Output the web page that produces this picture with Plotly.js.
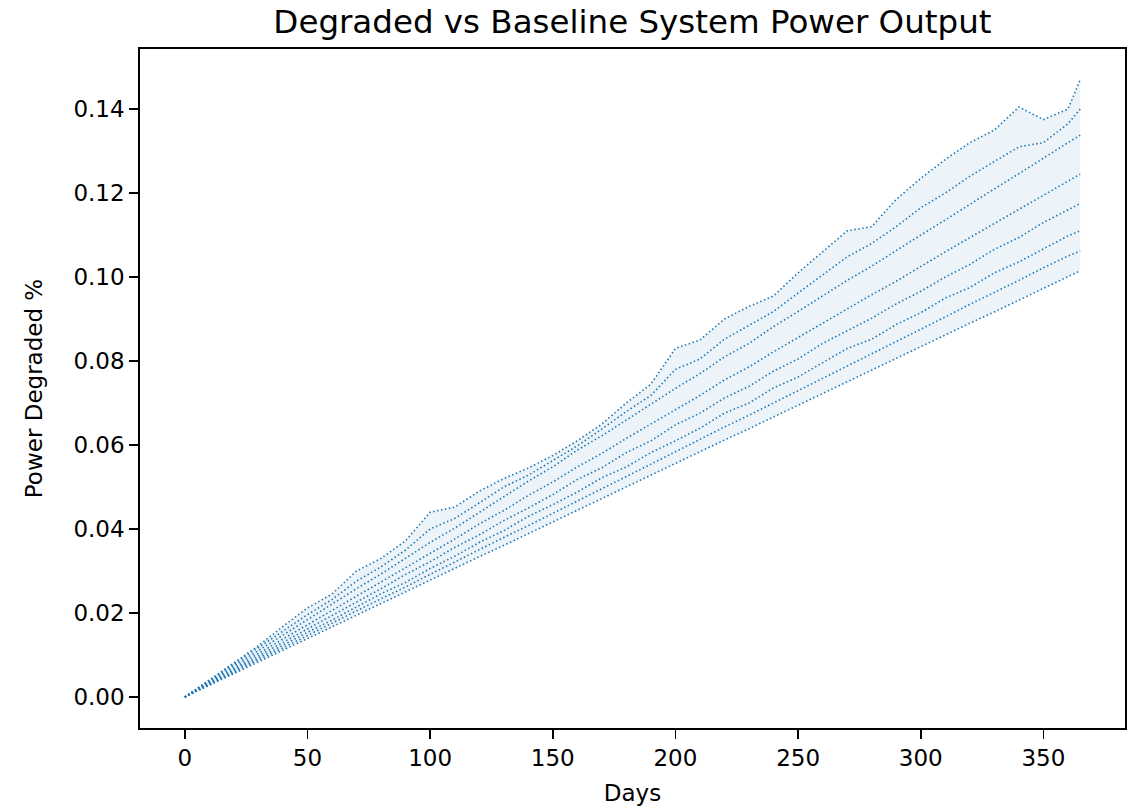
<!DOCTYPE html>
<html>
<head>
<meta charset="utf-8">
<script src="https://cdn.plot.ly/plotly-3.0.1.min.js"></script>
<style>html,body{margin:0;padding:0;background:#fff;}#chart{width:1132px;height:810px;}</style>
</head>
<body>
<div id="chart"></div>
<script>
// Days sampled along each strand of the scatter
const days = [0,10,20,30,40,50,60,70,80,90,100,110,120,130,140,150,160,170,180,190,200,210,220,230,240,250,260,270,280,290,300,310,320,330,340,350,360,365];

// Lower envelope (baseline-like strand)
const strand1 = [0,.0028,.0056,.0083,.0111,.0139,.0167,.0195,.0222,.0250,.0278,.0306,.0334,.0361,.0389,.0417,.0445,.0473,.0500,.0528,.0556,.0584,.0612,.0639,.0667,.0695,.0723,.0751,.0778,.0806,.0834,.0862,.0890,.0917,.0945,.0973,.1001,.1015];
const strand2 = [0,.0030,.0059,.0088,.0117,.0147,.0176,.0205,.0234,.0262,.0292,.0322,.0350,.0380,.0408,.0438,.0467,.0496,.0525,.0555,.0584,.0613,.0643,.0671,.0700,.0730,.0760,.0788,.0817,.0846,.0876,.0905,.0935,.0963,.0992,.1022,.1050,.1062];
const strand3 = [0,.0031,.0062,.0092,.0123,.0154,.0183,.0215,.0246,.0273,.0306,.0335,.0368,.0396,.0430,.0458,.0488,.0522,.0548,.0582,.0610,.0640,.0676,.0700,.0736,.0762,.0797,.0830,.0852,.0887,.0915,.0950,.0975,.1010,.1036,.1068,.1098,.1110];
const strand4 = [0,.0033,.0066,.0097,.0130,.0162,.0195,.0226,.0258,.0292,.0322,.0356,.0386,.0420,.0450,.0482,.0518,.0546,.0582,.0610,.0648,.0676,.0712,.0740,.0776,.0805,.0842,.0872,.0902,.0936,.0966,.1000,.1030,.1066,.1094,.1130,.1160,.1175];
const strand5 = [0,.0035,.0069,.0103,.0138,.0172,.0206,.0240,.0274,.0307,.0343,.0376,.0412,.0444,.0480,.0512,.0548,.0580,.0616,.0650,.0684,.0718,.0755,.0786,.0822,.0856,.0890,.0925,.0958,.0990,.1026,.1060,.1094,.1128,.1162,.1196,.1230,.1245];
const strand6 = [0,.0037,.0074,.0110,.0147,.0184,.0220,.0258,.0293,.0330,.0368,.0402,.0440,.0476,.0514,.0548,.0588,.0622,.0660,.0696,.0735,.0770,.0810,.0842,.0882,.0918,.0955,.0992,.1026,.1064,.1100,.1136,.1174,.1210,.1246,.1284,.1320,.1338];
const strand7 = [0,.0039,.0078,.0116,.0156,.0196,.0232,.0276,.0310,.0350,.0400,.0425,.0462,.0500,.0528,.0562,.0598,.0638,.0680,.0718,.0780,.0805,.0852,.0885,.0918,.0962,.1005,.1048,.1080,.1120,.1165,.1200,.1240,.1275,.1310,.1320,.1365,.1400];
// Upper (noisy) envelope
const strandTop = [0,.0041,.0083,.0122,.0168,.0212,.0245,.0300,.0330,.0372,.0440,.0452,.0490,.0520,.0545,.0575,.0610,.0650,.0700,.0745,.0830,.0850,.0900,.0930,.0955,.1010,.1060,.1110,.1120,.1185,.1235,.1280,.1320,.1350,.1405,.1375,.1400,.1470];

const xTicks = [0,50,100,150,200,250,300,350];
const yTicks = [0,0.02,0.04,0.06,0.08,0.10,0.12,0.14];

const blue = '#1f77b4';
const dotLine = {color: blue, width: 1.6, dash: '1.5px,2.5px'};

const strands = [strand2, strand3, strand4, strand5, strand6, strand7];
const traces = [
  {x: days, y: strand1, type: 'scatter', mode: 'lines', line: dotLine, hoverinfo: 'skip'},
  {x: days, y: strandTop, type: 'scatter', mode: 'lines', fill: 'tonexty',
   fillcolor: 'rgba(31,119,180,0.08)', line: dotLine, hoverinfo: 'skip'}
].concat(strands.map(s => ({x: days, y: s, type: 'scatter', mode: 'lines', line: dotLine, hoverinfo: 'skip'})));

const font = {family: 'DejaVu Sans, sans-serif', size: 23, color: '#000'};

const layout = {
  width: 1132, height: 810,
  margin: {l: 140, r: 7, t: 49, b: 82, pad: 0},
  paper_bgcolor: '#fff', plot_bgcolor: '#fff',
  showlegend: false,
  font: font,
  title: {text: 'Degraded vs Baseline System Power Output', font: {family: 'DejaVu Sans, sans-serif', size: 32.5, color: '#000'},
          x: 0.5587, xanchor: 'center', y: 0.973, yanchor: 'middle'},
  xaxis: {
    range: [-18.25, 383.25], tickvals: xTicks, ticktext: xTicks.map(String),
    showgrid: false, zeroline: false, showline: true, mirror: true, linecolor: '#000', linewidth: 1.8,
    ticks: 'outside', ticklen: 9, tickwidth: 1.8, tickcolor: '#000',
    tickfont: font,
    title: {text: 'Days', font: font, standoff: 14}
  },
  yaxis: {
    range: [-0.00738, 0.1543], tickvals: yTicks, ticktext: yTicks.map(v => v.toFixed(2)),
    showgrid: false, zeroline: false, showline: true, mirror: true, linecolor: '#000', linewidth: 1.8,
    ticks: 'outside', ticklen: 9, tickwidth: 1.8, tickcolor: '#000',
    tickfont: font,
    title: {text: 'Power Degraded %', font: font, standoff: 24}
  }
};

Plotly.newPlot('chart', traces, layout, {staticPlot: true, displayModeBar: false});
</script>
</body>
</html>
